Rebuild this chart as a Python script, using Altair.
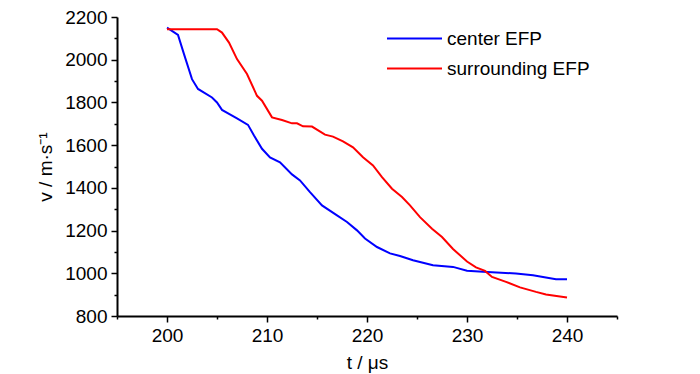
import altair as alt
import pandas as pd

# ---- data ----
center_t = [200.0, 201.1, 201.7, 202.5, 203.1, 204.5, 205.0, 205.5, 206.2, 207.0,
            208.1, 208.7, 209.5, 210.3, 211.3, 212.5, 213.3, 214.3, 215.5, 217.0,
            218.0, 219.0, 219.8, 221.0, 222.3, 223.3, 224.6, 226.6, 228.6, 230.0,
            231.6, 234.9, 236.6, 237.6, 238.9, 240.0]
center_v = [2150, 2116, 2026, 1909, 1863, 1823, 1800, 1765, 1746, 1725,
            1695, 1645, 1583, 1543, 1520, 1463, 1435, 1380, 1318, 1271,
            1240, 1201, 1163, 1123, 1093, 1081, 1061, 1038, 1030, 1012,
            1007, 999, 991, 983, 972, 972]

surr_t = [200.0, 205.0, 205.5, 206.2, 207.0, 208.0, 209.0, 209.5, 210.5, 211.5,
          212.5, 213.0, 213.6, 214.5, 215.8, 216.6, 217.6, 218.6, 219.6, 220.6,
          221.5, 222.5, 223.5, 224.3, 225.3, 226.5, 227.5, 228.6, 230.0, 230.9,
          231.8, 232.5, 233.9, 235.3, 236.9, 237.9, 240.0]
surr_v = [2143, 2143, 2127, 2080, 2003, 1933, 1831, 1808, 1730, 1718,
          1702, 1702, 1688, 1687, 1649, 1640, 1618, 1590, 1543, 1505,
          1450, 1396, 1357, 1318, 1263, 1209, 1170, 1114, 1055, 1028,
          1011, 983, 960, 934, 913, 901, 887]

series_names = ["center EFP", "surrounding EFP"]
series_colors = ["#0000ff", "#ff0000"]

x_ticks = list(range(195, 246, 5))
y_ticks = list(range(800, 2201, 100))

rows = []
for t, v in zip(center_t, center_v):
    rows.append({"t": t, "v": v, "series": series_names[0]})
for t, v in zip(surr_t, surr_v):
    rows.append({"t": t, "v": v, "series": series_names[1]})
df = pd.DataFrame(rows)

FONT = "Liberation Sans"

x_axis = alt.Axis(
    values=x_ticks,
    title="t / μs",
    labelExpr="datum.value % 10 === 0 ? datum.label : ''",
    tickSize={"condition": {"test": "datum.value % 10 === 0", "value": 6}, "value": 3},
    labelFont=FONT, labelFontSize=19, labelColor="black", labelPadding=4,
    titleFont=FONT, titleFontSize=19, titleFontWeight="normal", titleColor="black",
    titlePadding=8,
    domainColor="black", domainWidth=2, tickColor="black", tickWidth=1.5,
    grid=False, labelFlush=False, labelOverlap=False,
)

y_axis = alt.Axis(
    values=y_ticks,
    title="v / m·s⁻¹",
    labelExpr="datum.value % 200 === 0 ? datum.label : ''",
    tickSize={"condition": {"test": "datum.value % 200 === 0", "value": 6}, "value": 3},
    format="d",
    labelFont=FONT, labelFontSize=19, labelColor="black", labelPadding=4,
    titleFont=FONT, titleFontSize=19, titleFontWeight="normal", titleColor="black",
    titlePadding=9,
    domainColor="black", domainWidth=2, tickColor="black", tickWidth=1.5,
    grid=False, labelFlush=False, labelOverlap=False,
)

chart = alt.Chart(df).mark_line(strokeWidth=2, clip=False).encode(
    x=alt.X("t:Q", scale=alt.Scale(domain=[195, 245], nice=False, zero=False), axis=x_axis),
    y=alt.Y("v:Q", scale=alt.Scale(domain=[800, 2200], nice=False, zero=False), axis=y_axis),
    color=alt.Color(
        "series:N",
        scale=alt.Scale(domain=series_names, range=series_colors),
        legend=alt.Legend(
            title=None, orient="none", legendX=288, legendY=12,
            symbolType="M-5,0H5", symbolSize=121, symbolStrokeWidth=2,
            rowPadding=10,
            labelFont=FONT, labelFontSize=19, labelColor="black", labelOffset=23,
        ),
    ),
).properties(
    width=500, height=299,
    autosize=alt.AutoSizeParams(type="none"),
    padding={"left": 109, "top": 9, "right": 75, "bottom": 58},
).configure_view(stroke=None)

chart.save("out.html", embed_options={"renderer": "svg", "actions": False})
